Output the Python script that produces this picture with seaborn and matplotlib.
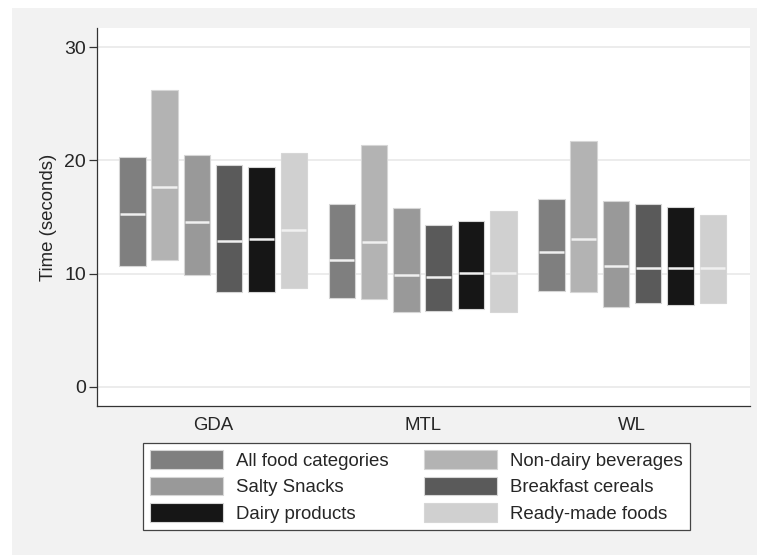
import numpy as np
import pandas as pd
import matplotlib
matplotlib.use("Agg")
import matplotlib.pyplot as plt
import matplotlib.patches as mpatches
import seaborn as sns

# Groups on the x axis
labels = ["GDA", "MTL", "WL"]

# Food categories (bar order within each group)
categories = ["All food categories", "Non-dairy beverages", "Salty Snacks",
              "Breakfast cereals", "Dairy products", "Ready-made foods"]
colors = ["#7f7f7f", "#b3b3b3", "#999999", "#5a5a5a", "#161616", "#d0d0d0"]

# Range (low/high) and median time in seconds, per label
all_food_low = [10.7, 7.9, 8.5]
all_food_med = [15.3, 11.2, 11.9]
all_food_high = [20.3, 16.2, 16.6]

non_dairy_low = [11.2, 7.8, 8.4]
non_dairy_med = [17.7, 12.8, 13.1]
non_dairy_high = [26.2, 21.4, 21.7]

salty_low = [9.9, 6.6, 7.1]
salty_med = [14.6, 9.9, 10.7]
salty_high = [20.5, 15.8, 16.4]

breakfast_low = [8.4, 6.7, 7.4]
breakfast_med = [12.9, 9.7, 10.5]
breakfast_high = [19.6, 14.3, 16.2]

dairy_low = [8.4, 6.9, 7.2]
dairy_med = [13.1, 10.1, 10.5]
dairy_high = [19.4, 14.7, 15.9]

ready_low = [8.7, 6.6, 7.4]
ready_med = [13.9, 10.1, 10.5]
ready_high = [20.7, 15.5, 15.2]

lows = [all_food_low, non_dairy_low, salty_low, breakfast_low, dairy_low, ready_low]
meds = [all_food_med, non_dairy_med, salty_med, breakfast_med, dairy_med, ready_med]
highs = [all_food_high, non_dairy_high, salty_high, breakfast_high, dairy_high, ready_high]

rows = []
for cat, lo, md, hi in zip(categories, lows, meds, highs):
    for lab, l, m, h in zip(labels, lo, md, hi):
        rows.append({"label": lab, "category": cat, "low": l, "median": m, "high": h})
df = pd.DataFrame(rows)
df["span"] = df["high"] - df["low"]

sns.set_style("white")
plt.rcParams["font.family"] = ["Liberation Sans", "DejaVu Sans"]
FS = 13.4

fig = plt.figure(figsize=(7.57, 5.55), dpi=100, facecolor="white")
fig.patches.append(mpatches.Rectangle((12 / 757, 0), 1, 1 - 8 / 555, transform=fig.transFigure,
                                      facecolor="#f2f2f2", edgecolor="none", zorder=-1))
ax = fig.add_axes([97 / 757, 1 - 406 / 555, (750 - 97) / 757, (406 - 28) / 555])
ax.set_facecolor("white")

sns.barplot(data=df, x="label", y="span", hue="category", order=labels, hue_order=categories,
            palette=colors, width=0.925, gap=0.18, dodge=True, legend=False,
            edgecolor="#d6d6d6", linewidth=0.8, saturation=1, ax=ax, zorder=3)

# float each bar up to its low value and mark the median
for cont, lo, md in zip(ax.containers, lows, meds):
    for bar, l, m in zip(cont, lo, md):
        bar.set_y(l)
        x0 = bar.get_x() + 0.004
        x1 = bar.get_x() + bar.get_width() - 0.004
        ax.plot([x0, x1], [m, m], color="#f0f0f0", lw=1.8, solid_capstyle="butt", zorder=4)

ax.set_xlim(-0.554, 2.563)
ax.set_ylim(-1.68, 31.7)
ax.set_yticks([0, 10, 20, 30])
ax.yaxis.grid(True, color="#eaeaea", lw=1.3, zorder=0)
ax.set_axisbelow(True)
ax.set_xlabel("")
ax.set_ylabel("Time (seconds)", fontsize=FS, labelpad=5)
ax.tick_params(axis="y", left=True, length=6, width=0.9, color="#333333", labelsize=14, pad=2)
ax.tick_params(axis="x", bottom=False, labelsize=FS, pad=4.5)
for s in ["top", "right"]:
    ax.spines[s].set_visible(False)
for s in ["left", "bottom"]:
    ax.spines[s].set_color("#333333")
    ax.spines[s].set_linewidth(0.9)

# legend: column-wise order so rows read across like the original
leg_order = [0, 2, 4, 1, 3, 5]
handles = [mpatches.Patch(facecolor=colors[i], edgecolor="#d6d6d6", lw=0.8) for i in leg_order]
leg_labels = [categories[i] for i in leg_order]
leg = fig.legend(handles, leg_labels, ncol=2, loc="upper left", bbox_to_anchor=(143 / 757, 1 - 443 / 555),
                 borderaxespad=0, fontsize=FS, frameon=True, fancybox=False, edgecolor="#444444",
                 facecolor="white", framealpha=1, handlelength=3.9, handleheight=1.13,
                 handletextpad=0.7, columnspacing=1.9, labelspacing=0.38, borderpad=0.4)
leg.get_frame().set_linewidth(0.9)

fig.savefig("out.png", dpi=100, facecolor=fig.get_facecolor())
